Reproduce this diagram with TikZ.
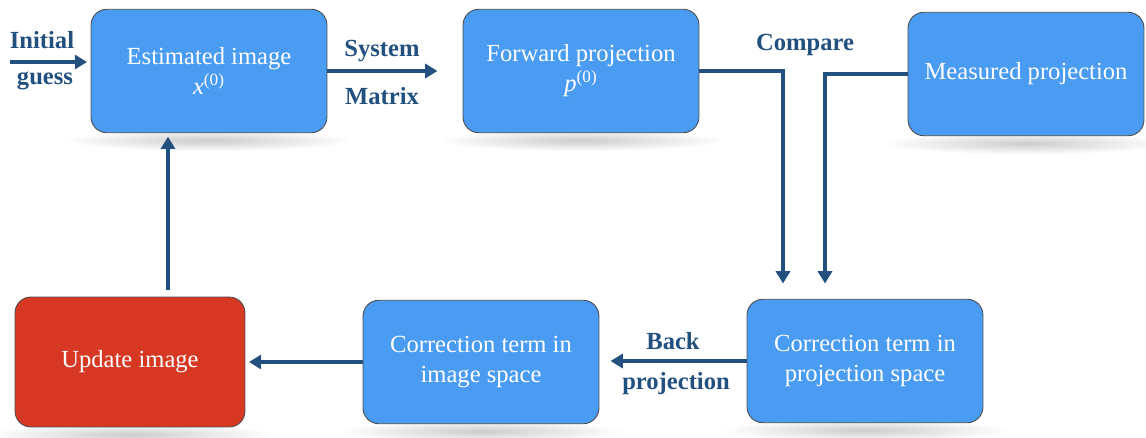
\documentclass[tikz,border=0pt]{standalone}
\usepackage{fontspec}
\setmainfont{Liberation Serif}
\usetikzlibrary{arrows.meta, positioning, backgrounds}

\definecolor{boxblue}{HTML}{4A9BF2}
\definecolor{boxred}{HTML}{D73823}
\definecolor{arrowblue}{HTML}{22507F}

\begin{document}
\begin{tikzpicture}[
            x = 0.02cm, y = -0.02cm, % one unit = one pixel
            > = {Triangle[length=7pt, width=8pt]}, % arrow head style
            shorten > = 2pt, % don't touch arrow head to node
            line width = 1.8pt, % line style
            draw = arrowblue
        ]

        \tikzstyle{block}=[
            draw = black!70,
            line width = 0.5pt,
            fill = boxblue,
            text = white,
            rounded corners = 9pt,
            align = center,
            font = \fontsize{14}{17}\selectfont,
            minimum width = 4.72cm,
            minimum height = 2.47cm
        ]
        \tikzstyle{lbl}=[
            text = arrowblue,
            font = \fontsize{14}{16}\selectfont\bfseries
        ]

        \useasboundingbox (0,0) rectangle (1146,437);

	\node[block] (est) at (209,71) {Estimated image\\\textit{x}\textsuperscript{(0)}};
	\node[block] (fwd) at (581,71) {Forward projection\\\textit{p}\textsuperscript{(0)}};
	\node[block] (meas) at (1026,74) {Measured projection};
	\node[block] (corrproj) at (865,361) {Correction term in\\projection space};
	\node[block] (corrimg) at (481,362) {Correction term in\\image space};
	\node[block, fill = boxred, minimum width = 4.6cm, minimum height = 2.6cm] (upd) at (130,362) {Update image};

	% free ends of the connectors
	\coordinate (init) at (10,62);
	\coordinate (sysend) at (441,71);
	\coordinate (cmpa) at (783,287);
	\coordinate (cmpb) at (825,287);
	\coordinate (backend) at (607,361);
	\coordinate (upstart) at (168,290);

	\node[lbl] (initial) at (42,40) {Initial};
	\node[lbl] (guess) at (45,81) {guess};
	\node[lbl] (system) at (382,51) {System};
	\node[lbl] (matrix) at (382,96) {Matrix};
	\node[lbl] (compare) at (805,45) {Compare};
	\node[lbl] (back) at (673,341) {Back};
	\node[lbl] (backproj) at (676,384) {projection};

        \path[->] (init) edge (init -| est.west);
        \path[->] (est.east) edge (sysend);
        \draw[->] (fwd.east) -| (cmpa);
        \draw[->] (meas.west) -| (cmpb);
        \path[->] (corrproj.west) edge (backend);
        \path[->] (corrimg.west) edge (upd.east);
        \path[->] (upstart) edge (upstart |- est.south);

        % soft shadows under the boxes
        \begin{scope}[on background layer]
            \foreach \n in {est, fwd, meas, corrproj, corrimg, upd}
                \shade[inner color = black!20, outer color = white]
                    ([yshift=-4pt]\n.south) ellipse (2.9cm and 0.22cm);
        \end{scope}

    \end{tikzpicture}
\end{document}
